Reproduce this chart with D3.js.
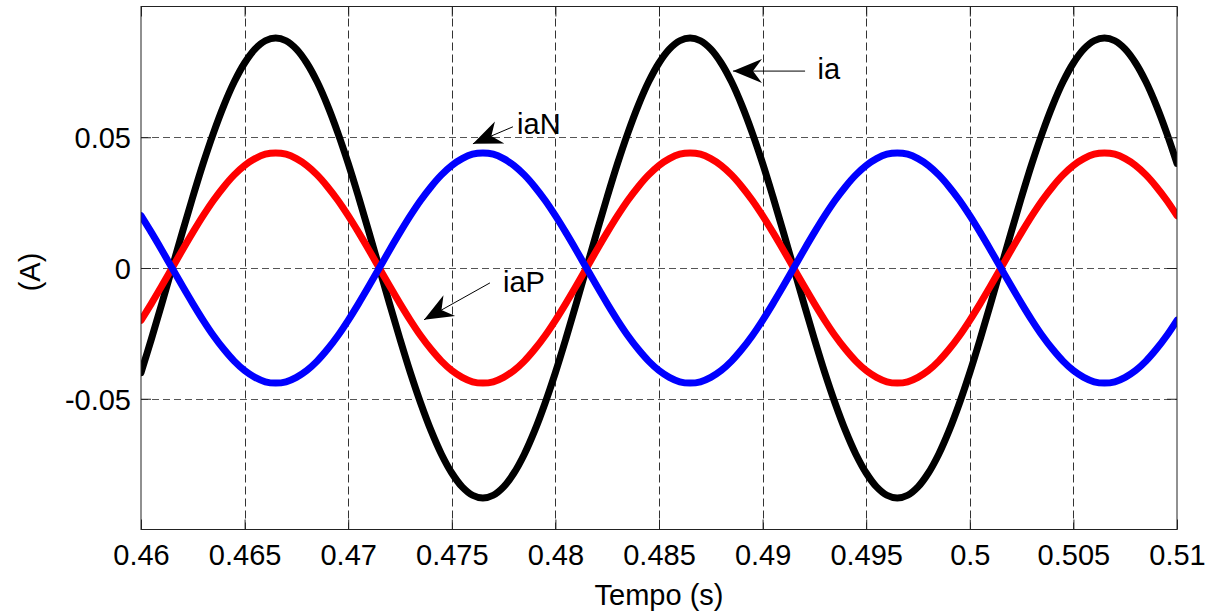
<!DOCTYPE html>
<html>
<head>
<meta charset="utf-8">
<script src="https://cdn.jsdelivr.net/npm/d3@7"></script>
<style>
  html, body { margin: 0; padding: 0; background: #fff; }
  svg { display: block; }
  text { font-family: "Liberation Sans", Arial, sans-serif; fill: #000; }
</style>
</head>
<body>
<svg id="chart" width="1209" height="615"></svg>
<script>
// ---- data ----
const tStart = 0.46;
const tStep = 0.0005;

const ia = [
  -0.0400, -0.0272, -0.0138, 0.0000, 0.0138, 0.0272, 0.0400, 0.0517, 0.0622, 0.0712,
   0.0784,  0.0837,  0.0869, 0.0880, 0.0869, 0.0837, 0.0784, 0.0712, 0.0622, 0.0517,
   0.0400,  0.0272,  0.0138, 0.0000,-0.0138,-0.0272,-0.0400,-0.0517,-0.0622,-0.0712,
  -0.0784, -0.0837, -0.0869,-0.0880,-0.0869,-0.0837,-0.0784,-0.0712,-0.0622,-0.0517,
  -0.0400, -0.0272, -0.0138, 0.0000, 0.0138, 0.0272, 0.0400, 0.0517, 0.0622, 0.0712,
   0.0784,  0.0837,  0.0869, 0.0880, 0.0869, 0.0837, 0.0784, 0.0712, 0.0622, 0.0517,
   0.0400,  0.0272,  0.0138, 0.0000,-0.0138,-0.0272,-0.0400,-0.0517,-0.0622,-0.0712,
  -0.0784, -0.0837, -0.0869,-0.0880,-0.0869,-0.0837,-0.0784,-0.0712,-0.0622,-0.0517,
  -0.0400, -0.0272, -0.0138, 0.0000, 0.0138, 0.0272, 0.0400, 0.0517, 0.0622, 0.0712,
   0.0784,  0.0837,  0.0869, 0.0880, 0.0869, 0.0837, 0.0784, 0.0712, 0.0622, 0.0517,
   0.0400
];

const iaP = [
  -0.0200, -0.0136, -0.0069, 0.0000, 0.0069, 0.0136, 0.0200, 0.0259, 0.0311, 0.0356,
   0.0392,  0.0418,  0.0435, 0.0440, 0.0435, 0.0418, 0.0392, 0.0356, 0.0311, 0.0259,
   0.0200,  0.0136,  0.0069, 0.0000,-0.0069,-0.0136,-0.0200,-0.0259,-0.0311,-0.0356,
  -0.0392, -0.0418, -0.0435,-0.0440,-0.0435,-0.0418,-0.0392,-0.0356,-0.0311,-0.0259,
  -0.0200, -0.0136, -0.0069, 0.0000, 0.0069, 0.0136, 0.0200, 0.0259, 0.0311, 0.0356,
   0.0392,  0.0418,  0.0435, 0.0440, 0.0435, 0.0418, 0.0392, 0.0356, 0.0311, 0.0259,
   0.0200,  0.0136,  0.0069, 0.0000,-0.0069,-0.0136,-0.0200,-0.0259,-0.0311,-0.0356,
  -0.0392, -0.0418, -0.0435,-0.0440,-0.0435,-0.0418,-0.0392,-0.0356,-0.0311,-0.0259,
  -0.0200, -0.0136, -0.0069, 0.0000, 0.0069, 0.0136, 0.0200, 0.0259, 0.0311, 0.0356,
   0.0392,  0.0418,  0.0435, 0.0440, 0.0435, 0.0418, 0.0392, 0.0356, 0.0311, 0.0259,
   0.0200
];

const iaN = [
   0.0200,  0.0136,  0.0069, 0.0000,-0.0069,-0.0136,-0.0200,-0.0259,-0.0311,-0.0356,
  -0.0392, -0.0418, -0.0435,-0.0440,-0.0435,-0.0418,-0.0392,-0.0356,-0.0311,-0.0259,
  -0.0200, -0.0136, -0.0069, 0.0000, 0.0069, 0.0136, 0.0200, 0.0259, 0.0311, 0.0356,
   0.0392,  0.0418,  0.0435, 0.0440, 0.0435, 0.0418, 0.0392, 0.0356, 0.0311, 0.0259,
   0.0200,  0.0136,  0.0069, 0.0000,-0.0069,-0.0136,-0.0200,-0.0259,-0.0311,-0.0356,
  -0.0392, -0.0418, -0.0435,-0.0440,-0.0435,-0.0418,-0.0392,-0.0356,-0.0311,-0.0259,
  -0.0200, -0.0136, -0.0069, 0.0000, 0.0069, 0.0136, 0.0200, 0.0259, 0.0311, 0.0356,
   0.0392,  0.0418,  0.0435, 0.0440, 0.0435, 0.0418, 0.0392, 0.0356, 0.0311, 0.0259,
   0.0200,  0.0136,  0.0069, 0.0000,-0.0069,-0.0136,-0.0200,-0.0259,-0.0311,-0.0356,
  -0.0392, -0.0418, -0.0435,-0.0440,-0.0435,-0.0418,-0.0392,-0.0356,-0.0311,-0.0259,
  -0.0200
];

const xTicks = [0.46, 0.465, 0.47, 0.475, 0.48, 0.485, 0.49, 0.495, 0.5, 0.505, 0.51];
const xTickLabels = ["0.46","0.465","0.47","0.475","0.48","0.485","0.49","0.495","0.5","0.505","0.51"];
const yTicks = [-0.05, 0, 0.05];
const yTickLabels = ["-0.05", "0", "0.05"];

const seriesNames = ["ia", "iaP", "iaN"];
const seriesColors = ["#000000", "#ff0000", "#0000ff"];

// annotations: [label, tip t, tip value, tail t, tail value, text t, text value]
const annotations = [
  ["ia",  0.48857, 0.0753, 0.49205, 0.0753, 0.49265, 0.0722],
  ["iaN", 0.47602, 0.0475, 0.47795, 0.0540, 0.47815, 0.0513],
  ["iaP", 0.47366, -0.0198, 0.47684, -0.0057, 0.47747, -0.0091]
];

// ---- layout ----
const pLeft = 141, pRight = 1177, pTop = 6.5, pBottom = 529.5;
const svg = d3.select("#chart");

const x = d3.scaleLinear().domain([0.46, 0.51]).range([pLeft, pRight]);
const y = d3.scaleLinear().domain([-0.1, 0.1]).range([pBottom, pTop]);

const time = ia.map((_, i) => tStart + i * tStep);

// clip
svg.append("defs").append("clipPath").attr("id", "clip")
  .append("rect").attr("x", pLeft).attr("y", pTop).attr("width", pRight - pLeft).attr("height", pBottom - pTop);

// grid
const grid = svg.append("g");
grid.selectAll("line.vx").data(xTicks.slice(1, -1)).join("line")
  .attr("x1", d => Math.round(x(d)) + 0.5).attr("x2", d => Math.round(x(d)) + 0.5)
  .attr("y1", pTop).attr("y2", pBottom)
  .attr("stroke", "#333").attr("stroke-width", 1).attr("stroke-dasharray", "8,4");
grid.selectAll("line.hy").data(yTicks).join("line")
  .attr("y1", d => Math.round(y(d)) + 0.5).attr("y2", d => Math.round(y(d)) + 0.5)
  .attr("x1", pLeft).attr("x2", pRight)
  .attr("stroke", "#555").attr("stroke-width", 1).attr("stroke-dasharray", "7,4");

// series
const line = d3.line().x((d, i) => x(time[i])).y(d => y(d)).curve(d3.curveCatmullRom);
const seriesData = [ia, iaP, iaN];
svg.append("g").attr("clip-path", "url(#clip)")
  .selectAll("path").data(seriesData).join("path")
  .attr("d", d => line(d))
  .attr("fill", "none")
  .attr("stroke", (d, i) => seriesColors[i])
  .attr("stroke-width", 7)
  .attr("stroke-linejoin", "round")
  .attr("stroke-linecap", "round");

// axes (ticks inside, box)
const axB = d3.axisBottom(x).tickValues(xTicks).tickSize(-10).tickFormat((d, i) => xTickLabels[i]);
const axT = d3.axisTop(x).tickValues(xTicks).tickSize(-10).tickFormat("");
const axL = d3.axisLeft(y).tickValues(yTicks).tickSize(-10).tickFormat((d, i) => yTickLabels[i]);
const axR = d3.axisRight(y).tickValues(yTicks).tickSize(-10).tickFormat("");

function styleAxis(g) {
  g.select(".domain").remove();
  g.selectAll(".tick line").attr("stroke", "#222").attr("stroke-width", 1);
  g.selectAll(".tick text").attr("font-size", 29).attr("fill", "#000")
    .style("font-family", '"Liberation Sans", Arial, sans-serif');
}
const gB = svg.append("g").attr("transform", `translate(0,${pBottom})`).call(axB).call(styleAxis);
gB.selectAll(".tick text").attr("y", 35).attr("dy", 0);
svg.append("g").attr("transform", `translate(0,${pTop})`).call(axT).call(styleAxis);
const gL = svg.append("g").attr("transform", `translate(${pLeft},0)`).call(axL).call(styleAxis);
gL.selectAll(".tick text").attr("x", -10).attr("dy", "0.36em");
svg.append("g").attr("transform", `translate(${pRight},0)`).call(axR).call(styleAxis);

// box
svg.append("rect").attr("x", pLeft).attr("y", pTop).attr("width", pRight - pLeft).attr("height", pBottom - pTop)
  .attr("fill", "none").attr("stroke", "#222").attr("stroke-width", 1);

// axis labels
svg.append("text").attr("x", (pLeft + pRight) / 2).attr("y", 605).attr("text-anchor", "middle")
  .attr("font-size", 29).text("Tempo (s)");
svg.append("text").attr("transform", `translate(40,${y(0) + 4}) rotate(-90)`).attr("text-anchor", "middle")
  .attr("font-size", 29).text("(A)");

// annotations
function arrowHead(tx, ty, sx, sy) {
  const ang = Math.atan2(sy - ty, sx - tx);
  const L = 29, W = 12, N = 20;
  const c = Math.cos(ang), s = Math.sin(ang);
  const p = (a, b) => [tx + a * c - b * s, ty + a * s + b * c];
  return [p(0, 0), p(L, W), p(N, 0), p(L, -W)];
}
const ann = svg.append("g");
annotations.forEach(a => {
  const [label, t1, v1, t2, v2, t3, v3] = a;
  const tx = x(t1), ty = y(v1), sx = x(t2), sy = y(v2);
  ann.append("line").attr("x1", sx).attr("y1", sy).attr("x2", tx).attr("y2", ty)
    .attr("stroke", "#000").attr("stroke-width", 1);
  ann.append("path").attr("d", "M" + arrowHead(tx, ty, sx, sy).join("L") + "Z").attr("fill", "#000");
  ann.append("text").attr("x", x(t3)).attr("y", y(v3)).attr("font-size", 29).text(label);
});
</script>
</body>
</html>
